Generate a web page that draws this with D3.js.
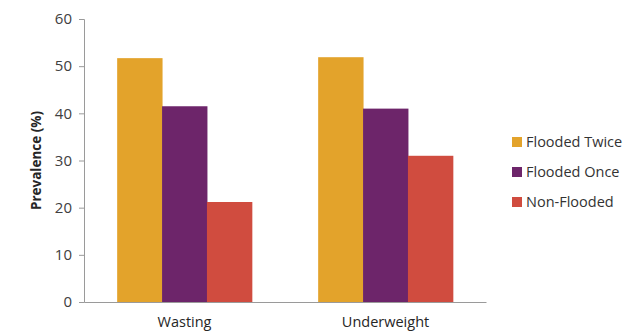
<!DOCTYPE html>
<html><head><meta charset="utf-8">
<script src="https://cdn.jsdelivr.net/npm/d3@7"></script>
<style>body{margin:0;background:#fff}svg{display:block}</style>
</head><body>
<svg id="c" width="623" height="335"></svg>
<script>
const categories = ["Wasting", "Underweight"];
const seriesNames = ["Flooded Twice", "Flooded Once", "Non-Flooded"];
const floodedTwice = [51.7, 51.9];
const floodedOnce = [41.5, 41.0];
const nonFlooded = [21.2, 31.0];
const yTicks = [0, 10, 20, 30, 40, 50, 60];
const colors = ["#E3A32B", "#6D256A", "#D04C3F"];

(function () {
const series = [floodedTwice, floodedOnce, nonFlooded];
const svg = d3.select("#c");
const mLeft = 84, mRight = 486, mTop = 19, mBottom = 302;
const x = d3.scaleBand().domain(categories).range([mLeft, mRight]).paddingInner(0.33).paddingOuter(0.165);
const xs = d3.scaleBand().domain(seriesNames).range([0, x.bandwidth()]);
const y = d3.scaleLinear().domain([0, 60]).range([mBottom, mTop]);
const font = "'Open Sans', 'Liberation Sans', sans-serif";

categories.forEach((c, i) => {
  svg.append("g").selectAll("rect").data(seriesNames).join("rect")
    .attr("x", s => x(c) + xs(s))
    .attr("width", xs.bandwidth() + 0.5)
    .attr("y", (s, j) => y(series[j][i]))
    .attr("height", (s, j) => y(0) - y(series[j][i]))
    .attr("fill", (s, j) => colors[j]);
});

const ya = svg.append("g").attr("transform", `translate(${mLeft},0)`)
  .call(d3.axisLeft(y).tickValues(yTicks).tickSize(5).tickPadding(7));
ya.select(".domain").attr("stroke", "#9a9a9a");
ya.selectAll(".tick line").attr("stroke", "#9a9a9a");
ya.selectAll("text").attr("font-family", font).attr("font-size", 15).attr("fill", "#404040");

const xa = svg.append("g").attr("transform", `translate(0,${mBottom})`)
  .call(d3.axisBottom(x).tickSize(0).tickPadding(15));
xa.select(".domain").attr("stroke", "#9a9a9a");
xa.selectAll("text").attr("font-family", font).attr("font-size", 14.5).attr("fill", "#262626");

svg.append("text").attr("transform", `translate(41,${(mTop+mBottom)/2}) rotate(-90)`)
  .attr("text-anchor", "middle").attr("font-family", font).attr("font-weight", "bold")
  .attr("font-size", 13.5).attr("fill", "#262626").text("Prevalence (%)");

const lg = svg.append("g").selectAll("g").data(seriesNames).join("g")
  .attr("transform", (d, i) => `translate(512,${142 + i * 30})`);
lg.append("rect").attr("x", 0).attr("y", -5).attr("width", 10).attr("height", 10)
  .attr("fill", (d, i) => colors[i]);
lg.append("text").attr("x", 14).attr("y", 0).attr("dy", "0.35em")
  .attr("font-family", font).attr("font-size", 14.5).attr("fill", "#333").text(d => d);
})();
</script>
</body></html>
